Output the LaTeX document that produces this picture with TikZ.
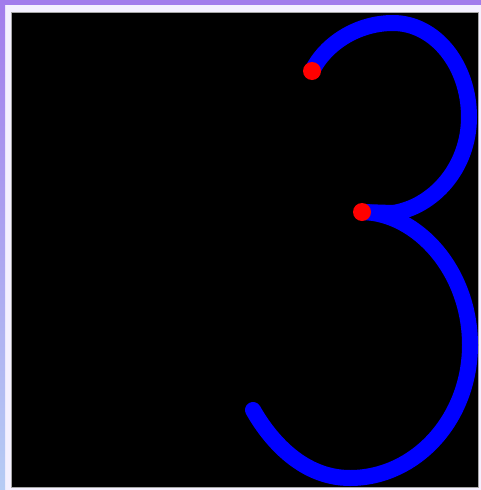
\documentclass[tikz,border=0pt]{standalone}
\begin{document}
\begin{tikzpicture}[x=1pt,y=-1pt,
  stroke/.style={draw={rgb,255:red,0;green,0;blue,255},line width=16pt},
  reddot/.style={circle,fill={rgb,255:red,255;green,0;blue,0},inner sep=0pt,minimum size=18pt}]
\definecolor{frmpurple}{RGB}{162,124,236}
\definecolor{frmlight}{RGB}{244,240,255}
\definecolor{frmblue}{RGB}{182,204,244}
\useasboundingbox (0,0) rectangle (481,490);
\fill[frmlight] (0,0) rectangle (481,490);
\fill[frmpurple] (0,0) rectangle (481,5);
\shade[top color=frmpurple,bottom color=frmblue] (0,0) rectangle (5,490);
\fill[black] (12,13) rectangle (478,487);
\draw[gray!70,line width=1pt] (11.5,12.5) rectangle (478.5,487.5);
\begin{scope}
\clip (12,13) rectangle (478,487);
% named points
\coordinate (ut) at (393,23);
\coordinate (ur) at (469,117);
\coordinate (uj) at (393,213);
\coordinate (lr) at (470,345);
\coordinate (lb) at (350,478);
\coordinate (le) at (253,410);
\node[reddot,opacity=0] (p1) at (312,71) {};
\node[reddot,opacity=0] (p2) at (362,212) {};
% upper bowl
\draw[stroke] (p1.center) .. controls (326,43) and (358,23) .. (ut)
  .. controls (435,23) and (469,65) .. (ur)
  .. controls (469,168) and (433,207) .. (uj) -- (p2.center);
% lower bowl
\draw[stroke,line cap=round] (p2.center) .. controls (418,213) and (470,271.6) .. (lr)
  .. controls (470,418.4) and (416.2,478) .. (lb)
  .. controls (300,478) and (267.7,436) .. (le);
\end{scope}
\node[reddot] at (p1) {};
\node[reddot] at (p2) {};
\end{tikzpicture}
\end{document}
